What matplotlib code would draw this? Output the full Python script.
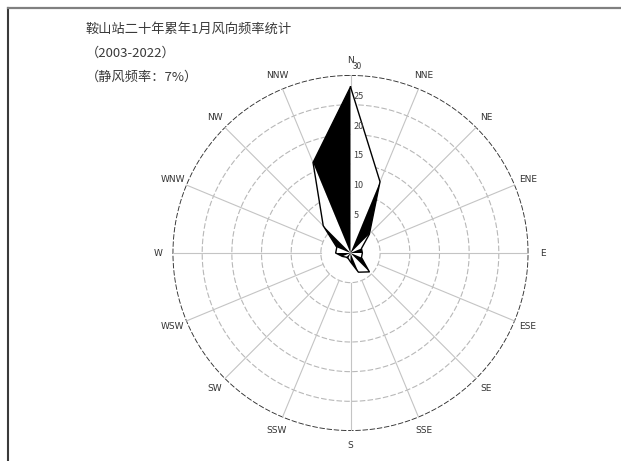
import numpy as np
import matplotlib
matplotlib.use("Agg")
import matplotlib.pyplot as plt
from matplotlib.lines import Line2D

plt.rcParams['font.family'] = ['Noto Sans CJK SC', 'DejaVu Sans']

# wind directions, clockwise from north
directions = ['N', 'NNE', 'NE', 'ENE', 'E', 'ESE', 'SE', 'SSE',
              'S', 'SSW', 'SW', 'WSW', 'W', 'WNW', 'NW', 'NNW']
# frequency (%) per direction
freq = [28, 13, 4.5, 2, 2, 2, 4.5, 3.5,
        1.5, 1, 1, 1.5, 2.5, 2.5, 6.5, 16.5]
ring_values = [5, 10, 15, 20, 25, 30]
ring_labels = ['5', '10', '15', '20', '25', '30']
title_lines = ['鞍山站二十年累年1月风向频率统计', '（2003-2022）', '（静风频率：7%）']

W, H = 621, 461
fig = plt.figure(figsize=(W / 100, H / 100), dpi=100)

# frame lines of the original picture
fig.add_artist(Line2D([7.5 / W, 7.5 / W], [0, 1 - 8.5 / H], transform=fig.transFigure,
                      color='#3a3a3a', lw=1.5))
fig.add_artist(Line2D([7.5 / W, 1], [1 - 8.5 / H, 1 - 8.5 / H], transform=fig.transFigure,
                      color='#808080', lw=1.6))

for i, line in enumerate(title_lines):
    fig.text(86 / W, 1 - (29 + 24 * i) / H, line, fontsize=9.5, color='#3a3a3a',
             ha='left', va='center')

cx, cy, rad = 350.5, 253, 178
ax = fig.add_axes([(cx - rad) / W, (H - cy - rad) / H, 2 * rad / W, 2 * rad / H],
                  projection='polar')
ax.set_theta_zero_location('N')
ax.set_theta_direction(-1)
ax.set_ylim(0, 30)
ax.grid(False)
ax.set_xticks([])
ax.set_yticks([])
ax.spines['polar'].set_visible(False)
ax.patch.set_alpha(0)

theta = np.deg2rad(np.arange(len(directions)) * 22.5)
circ = np.linspace(0, 2 * np.pi, 400)

# rings
for r in ring_values[:-1]:
    ax.plot(circ, np.full_like(circ, r), color='#b8b8b8', lw=0.8,
            dashes=(5, 2), zorder=1)
ax.plot(circ, np.full_like(circ, 30), color='#303030', lw=1.3,
        dashes=(3, 1), zorder=1)
# spokes
for t in theta:
    ax.plot([t, t], [5, 30], color='#c4c4c4', lw=0.8, zorder=1)

# rose: alternating black / white sectors between neighbouring directions
n = len(freq)
for i in range(n):
    j = (i + 1) % n
    ts = [0, theta[i], theta[j]]
    rs = [0, freq[i], freq[j]]
    black = (i % 2 == 1)  # NNE-NE, ENE-E, ... NNW-N
    if i == n - 1:
        black = True
    ax.fill(ts, rs, color='black' if black else 'white', lw=0,
            zorder=3 if black else 2)
ax.plot(np.append(theta, theta[0]), freq + [freq[0]], color='black', lw=1.0, zorder=4)

# ring value labels along the north spoke
for r, lab in zip(ring_values, ring_labels):
    ax.annotate(lab, xy=(0, r), xytext=(2, 6), textcoords='offset points',
                fontsize=6.5 if r < 30 else 6, color='#404040', ha='left', va='center',
                annotation_clip=False, zorder=5)

# direction labels
for t, d in zip(theta, directions):
    ax.text(t, 32.4, d, fontsize=6.5, color='#333333', ha='center', va='center',
            family='DejaVu Sans', clip_on=False)

fig.savefig('out.png', dpi=100)
